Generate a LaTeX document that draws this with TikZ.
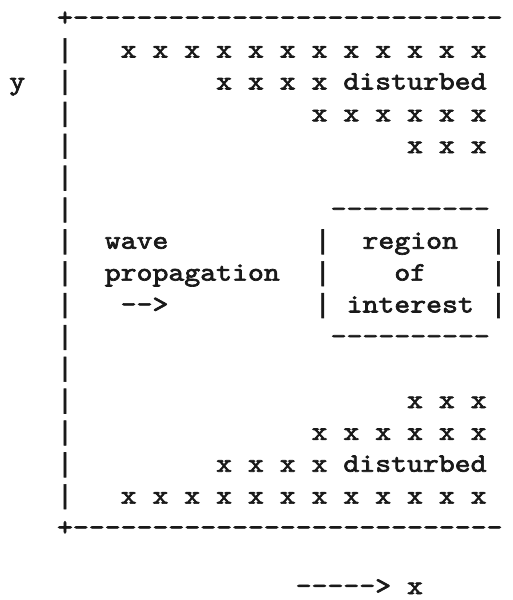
\documentclass[tikz,border=0pt]{standalone}
\usepackage{fontspec}
\newfontfamily\asciifont[Extension=.otf,WordSpace={1,0,0},FakeBold=2.5,FakeStretch=1.1436]{lmmono10-regular}
\newfontfamily\barfont[WordSpace={1,0,0},FakeBold=2.5]{Liberation Mono}
\tikzset{
  txt/.style={anchor=base west, inner sep=0pt, outer sep=0pt, text=black!90,
    font=\asciifont\fontsize{26.5}{32}\selectfont},
  vbar/.style={txt, font=\barfont\fontsize{26.5}{32}\selectfont}
}
\newcommand\seg[4]{\node[txt] (#1) at ({-6.6+15.91*(#2)},{25.7+31.86*(#3)}) {#4};}
\newcommand\vb[3]{\node[vbar] (#1) at ({-6.6+15.91*(#2)},{25.7+31.86*(#3)}) {|};}
\begin{document}
\begin{tikzpicture}[x=1pt,y=-1pt]
\useasboundingbox[fill=white] (0,0) rectangle (513,600);
% frame
\seg{topline}{4}{0}{+---------------------------}
\foreach \r in {1,...,15}{\vb{bar\r}{4}{\r}}
\seg{botline}{4}{16}{+---------------------------}
\seg{ylab}{1}{2}{y}
% upper disturbed region
\seg{u1}{8}{1}{x~x~x~x~x~x~x~x~x~x~x~x}
\seg{u2}{14}{2}{x~x~x~x~disturbed}
\seg{u3}{20}{3}{x~x~x~x~x~x}
\seg{u4}{26}{4}{x~x~x}
% wave propagation
\seg{wave}{7}{7}{wave}
\seg{prop}{7}{8}{propagation}
\seg{warrow}{8}{9}{-{}->}
% region of interest box
\seg{boxtop}{21.2}{6}{----------}
\vb{bl7}{20.2}{7}
\vb{bl8}{20.2}{8}
\vb{bl9}{20.2}{9}
\vb{br7}{31.25}{7}
\vb{br8}{31.25}{8}
\vb{br9}{31.25}{9}
\seg{region}{23.2}{7}{region}
\seg{of}{25.2}{8}{of}
\seg{interest}{22.2}{9}{interest}
\seg{boxbot}{21.2}{10}{----------}
% lower disturbed region
\seg{l4}{26}{12}{x~x~x}
\seg{l3}{20}{13}{x~x~x~x~x~x}
\seg{l2}{14}{14}{x~x~x~x~disturbed}
\seg{l1}{8}{15}{x~x~x~x~x~x~x~x~x~x~x~x}
% x axis
\node[txt] (xaxis) at ({-6.6+15.91*19},594) {-{}-{}-{}-{}->~x};
\end{tikzpicture}
\end{document}
